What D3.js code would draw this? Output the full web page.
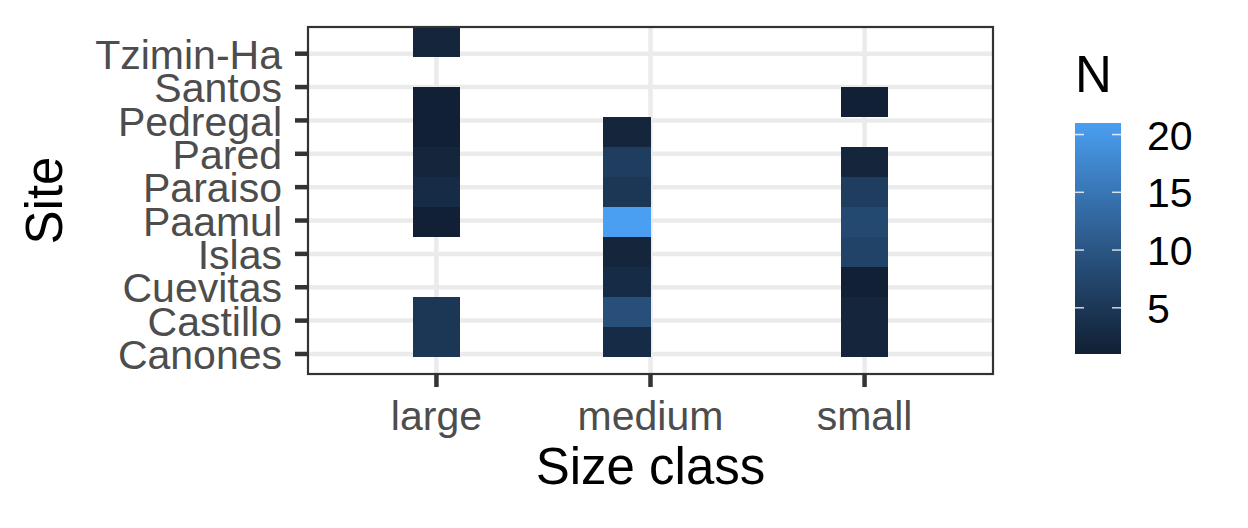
<!DOCTYPE html>
<html>
<head>
<meta charset="utf-8">
<script src="https://cdn.jsdelivr.net/npm/d3@7"></script>
<style>
  body { margin: 0; background: #fff; }
  text { font-family: "Liberation Sans", Arial, Helvetica, sans-serif; }
</style>
</head>
<body>
<div id="chart"></div>
<script>
// categories
var sizeClasses = ["large", "medium", "small"]
var sites = ["Canones", "Castillo", "Cuevitas", "Islas", "Paamul",
             "Paraiso", "Pared", "Pedregal", "Santos", "Tzimin-Ha"]

// counts per site (same order as sites), null = no tile
var largeN  = [5, 5, null, null, 1, 3, 2, 1, 1, 2]
var mediumN = [3, 9, 3, 2, 21, 5, 6, 2, null, null]
var smallN  = [2, 2, 1, 7, 8, 6, 2, null, 1, null]

var legendTicks = [5, 10, 15, 20]

var W = 1248, H = 528
var panel = {left: 308, right: 993, top: 27, bottom: 374}

var svg = d3.select("#chart").append("svg")
    .attr("width", W)
    .attr("height", H)

// build long table
var counts = [largeN, mediumN, smallN]
var data = []
sizeClasses.forEach(function(c, i) {
  sites.forEach(function(s, j) {
    if (counts[i][j] != null) data.push({size: c, site: s, x: i + 1, y: j + 1, n: counts[i][j]})
  })
})

// 2d binning of the category positions (like stat_bin_2d)
function binner(lo, hi, bins) {
  var w = (hi - lo) / bins
  var origin = Math.floor(lo / w + 1e-9) * w
  return function(v) {
    var k = Math.ceil((v - origin) / w - 1e-6)
    return [origin + (k - 1) * w, origin + k * w]
  }
}
var binX = binner(1, sizeClasses.length, 9)
var binY = binner(1, sites.length, 10)
data.forEach(function(d) {
  d.xb = binX(d.x)
  d.yb = binY(d.y)
})

var x = d3.scaleLinear().domain([0.4, sizeClasses.length + 0.6]).range([panel.left, panel.right])
var y = d3.scaleLinear().domain([0.4, 10.8]).range([panel.bottom, panel.top])

var nExtent = d3.extent(data, function(d) { return d.n })
var color = d3.scaleLinear().domain(nExtent)
    .range(["#112034", "#4A9FF2"])
    .interpolate(d3.interpolateLab)

// grid
var grid = svg.append("g")
grid.selectAll(".gy").data(sites).enter().append("line")
    .attr("x1", panel.left).attr("x2", panel.right)
    .attr("y1", function(d, i) { return y(i + 1) })
    .attr("y2", function(d, i) { return y(i + 1) })
    .attr("stroke", "#EBEBEB").attr("stroke-width", 4.5)
grid.selectAll(".gx").data(sizeClasses).enter().append("line")
    .attr("y1", panel.top).attr("y2", panel.bottom)
    .attr("x1", function(d, i) { return x(i + 1) })
    .attr("x2", function(d, i) { return x(i + 1) })
    .attr("stroke", "#EBEBEB").attr("stroke-width", 4.5)

// tiles
svg.append("clipPath").attr("id", "clip").append("rect")
    .attr("x", panel.left).attr("y", panel.top)
    .attr("width", panel.right - panel.left).attr("height", panel.bottom - panel.top)

svg.append("g").attr("clip-path", "url(#clip)")
  .selectAll("rect").data(data).enter().append("rect")
    .attr("x", function(d) { return x(d.xb[0]) })
    .attr("width", function(d) { return x(d.xb[1]) - x(d.xb[0]) })
    .attr("y", function(d) { return y(d.yb[1]) })
    .attr("height", function(d) { return y(d.yb[0]) - y(d.yb[1]) })
    .attr("fill", function(d) { return color(d.n) })
    .attr("shape-rendering", "crispEdges")

// panel border
svg.append("rect")
    .attr("x", panel.left).attr("y", panel.top)
    .attr("width", panel.right - panel.left).attr("height", panel.bottom - panel.top)
    .attr("fill", "none").attr("stroke", "#333333").attr("stroke-width", 2.2)

// x axis
var xa = svg.append("g")
xa.selectAll("line").data(sizeClasses).enter().append("line")
    .attr("x1", function(d, i) { return x(i + 1) })
    .attr("x2", function(d, i) { return x(i + 1) })
    .attr("y1", panel.bottom).attr("y2", panel.bottom + 13)
    .attr("stroke", "#333333").attr("stroke-width", 4.5)
xa.selectAll("text").data(sizeClasses).enter().append("text")
    .attr("x", function(d, i) { return x(i + 1) })
    .attr("y", 430)
    .attr("text-anchor", "middle")
    .attr("font-size", 41)
    .attr("fill", "#4D4D4D")
    .text(function(d) { return d })

// y axis
var ya = svg.append("g")
ya.selectAll("line").data(sites).enter().append("line")
    .attr("x1", panel.left - 13).attr("x2", panel.left)
    .attr("y1", function(d, i) { return y(i + 1) })
    .attr("y2", function(d, i) { return y(i + 1) })
    .attr("stroke", "#333333").attr("stroke-width", 4.5)
ya.selectAll("text").data(sites).enter().append("text")
    .attr("x", 282)
    .attr("y", function(d, i) { return y(i + 1) })
    .attr("dy", "0.37em")
    .attr("text-anchor", "end")
    .attr("font-size", 41)
    .attr("fill", "#4D4D4D")
    .text(function(d) { return d })

// axis titles
svg.append("text")
    .attr("x", (panel.left + panel.right) / 2).attr("y", 484)
    .attr("text-anchor", "middle").attr("font-size", 51)
    .text("Size class")
svg.append("text")
    .attr("transform", "translate(62," + (panel.top + panel.bottom) / 2 + ") rotate(-90)")
    .attr("text-anchor", "middle").attr("font-size", 51)
    .text("Site")

// legend
var lg = {x: 1075, w: 46, top: 123, bottom: 354}
var ly = d3.scaleLinear().domain(nExtent).range([lg.bottom, lg.top])

var grad = svg.append("defs").append("linearGradient")
    .attr("id", "grad").attr("x1", 0).attr("y1", 1).attr("x2", 0).attr("y2", 0)
grad.selectAll("stop").data(d3.range(0, 1.0001, 0.05)).enter().append("stop")
    .attr("offset", function(d) { return d })
    .attr("stop-color", function(d) { return color(nExtent[0] + d * (nExtent[1] - nExtent[0])) })

svg.append("rect")
    .attr("x", lg.x).attr("y", lg.top)
    .attr("width", lg.w).attr("height", lg.bottom - lg.top)
    .attr("fill", "url(#grad)")

legendTicks.forEach(function(t) {
  [[lg.x, lg.x + 9], [lg.x + lg.w - 9, lg.x + lg.w]].forEach(function(p) {
    svg.append("line")
        .attr("x1", p[0]).attr("x2", p[1])
        .attr("y1", ly(t)).attr("y2", ly(t))
        .attr("stroke", "#fff").attr("stroke-opacity", 0.8).attr("stroke-width", 1.5)
  })
})
svg.append("g").selectAll("text").data(legendTicks).enter().append("text")
    .attr("x", 1147)
    .attr("y", function(d) { return ly(d) })
    .attr("dy", "0.37em")
    .attr("font-size", 41)
    .text(function(d) { return d })

svg.append("text")
    .attr("x", 1075).attr("y", 92)
    .attr("font-size", 51)
    .text("N")
</script>
</body>
</html>
